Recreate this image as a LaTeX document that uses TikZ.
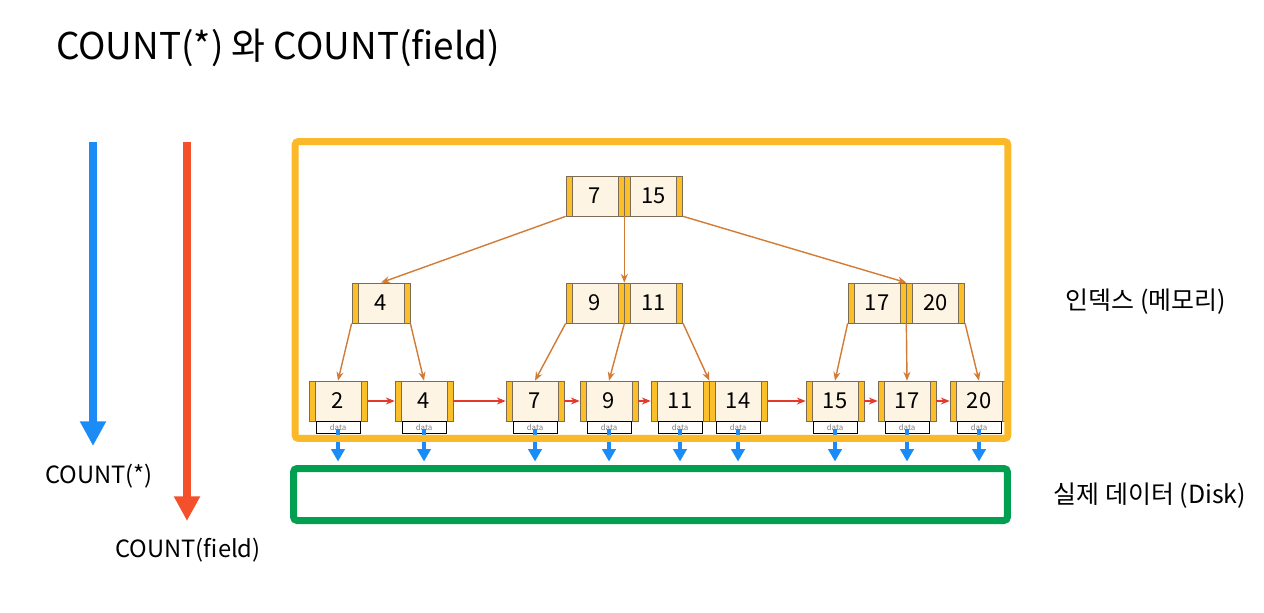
\documentclass[tikz,border=0pt]{standalone}
\usepackage{fontspec}
\setmainfont{Noto Sans CJK KR}
\usepackage{tikz}
\usetikzlibrary{arrows.meta}
\usetikzlibrary{positioning}

\definecolor{framegold}{HTML}{FBB829}
\definecolor{diskgreen}{HTML}{00A050}
\definecolor{keybar}{HTML}{FBBF2A}
\definecolor{keycream}{HTML}{FDF4E4}
\definecolor{keyedge}{HTML}{7C6C55}
\definecolor{treeline}{HTML}{D27B35}
\definecolor{leafred}{HTML}{E5392B}
\definecolor{scanblue}{HTML}{1B8CF5}
\definecolor{scanred}{HTML}{F4502C}

\tikzset{
  keycell/.style={draw=keyedge, fill=keycream, minimum width=1.16cm, minimum height=0.8cm,
    inner sep=0pt, font=\fontsize{12.5}{14}\selectfont,
    path picture={
      \fill[keybar] (path picture bounding box.south west) rectangle ([xshift=0.12cm]path picture bounding box.north west);
      \fill[keybar] (path picture bounding box.south east) rectangle ([xshift=-0.12cm]path picture bounding box.north east);
      \draw[keyedge] ([xshift=0.12cm]path picture bounding box.south west) -- ([xshift=0.12cm]path picture bounding box.north west);
      \draw[keyedge] ([xshift=-0.12cm]path picture bounding box.south east) -- ([xshift=-0.12cm]path picture bounding box.north east);
    }},
  datacell/.style={draw=black, fill=white, minimum width=0.88cm, minimum height=0.24cm,
    inner sep=0pt, text=gray, font=\fontsize{4.5}{5}\selectfont},
  treeedge/.style={treeline, line width=0.8pt, -{Stealth[length=5pt,width=4pt]}},
  leaflink/.style={leafred, line width=0.7pt, -{Stealth[length=5pt,width=4pt]}},
  diskarrow/.style={scanblue, line width=2.6pt, -{Triangle[length=7pt,width=7.5pt]}},
  label/.style={font=\fontsize{13.5}{16}\selectfont},
  sidelabel/.style={font=\fontsize{14.2}{17}\selectfont}
}

\begin{document}
\begin{tikzpicture}[x=0.02cm,y=-0.02cm]
\useasboundingbox (0,0) rectangle (1264,612);

\node[anchor=west,font=\fontsize{21}{25}\selectfont] (title) at (50,48) {COUNT(*) 와 COUNT(field)};

% scan direction arrows
\coordinate (blueTop) at (93,142);
\coordinate (blueEnd) at (93,446);
\coordinate (redTop) at (187,142);
\coordinate (redEnd) at (187,521);
\draw[scanblue,line width=4pt,-{Triangle[length=14pt,width=14pt]}] (blueTop) -- (blueEnd);
\draw[scanred,line width=4pt,-{Triangle[length=14pt,width=14pt]}] (redTop) -- (redEnd);
\node[label] (starlabel) at (99,476) {COUNT(*)};
\node[label] (fieldlabel) at (188,550) {COUNT(field)};

% root
\node[keycell] (r7) at (595,196) {7};
\node[keycell,right=0pt of r7] (r15) {15};

% branches
\node[keycell] (i4) at (381,303) {4};
\node[keycell] (i9) at (595,303) {9};
\node[keycell,right=0pt of i9] (i11) {11};
\node[keycell] (i17) at (877,303) {17};
\node[keycell,right=0pt of i17] (i20) {20};

% leaves
\foreach \k/\x in {2/338,4/424,7/535,9/609,11/680,14/738,15/835,17/907,20/979}
  \node[keycell] (l\k) at (\x,401) {\k};

% disk
\node[draw=diskgreen,line width=0.14cm,minimum width=14.28cm,minimum height=1.04cm,rounded corners=2pt] (disk) at (650.5,494.5) {};

\foreach \k in {2,4,7,9,11,14,15,17,20}{
  \node[datacell,below=0pt of l\k] (d\k) {data};
  \draw[diskarrow] ([yshift=-1pt]d\k.center) -- ([yshift=2pt]d\k.center |- disk.north);
}

% index frame
\node[draw=framegold,line width=0.14cm,minimum width=14.26cm,minimum height=5.94cm,rounded corners=2pt] (index) at (651.5,290) {};

\draw[treeedge] (r7.south west) -- (i4.north);
\draw[treeedge] (r7.south east) -- (i9.north east);
\draw[treeedge] (r15.south east) -- (i17.north east);
\draw[treeedge] (i4.south west) -- (l2.north);
\draw[treeedge] (i4.south east) -- (l4.north);
\draw[treeedge] (i9.south west) -- (l7.north);
\draw[treeedge] (i9.south east) -- (l9.north);
\draw[treeedge] (i11.south east) -- (l11.north east);
\draw[treeedge] (i17.south west) -- (l15.north);
\draw[treeedge] (i17.south east) -- (l17.north);
\draw[treeedge] (i20.south east) -- (l20.north);

\draw[leaflink] (l2) -- (l4);
\draw[leaflink] (l4) -- (l7);
\draw[leaflink] (l7) -- (l9);
\draw[leaflink] (l9) -- (l11);
\draw[leaflink] (l14) -- (l15);
\draw[leaflink] (l15) -- (l17);
\draw[leaflink] (l17) -- (l20);

\node[sidelabel] (indexlabel) at (1146,302) {인덱스 (메모리)};
\node[sidelabel] (disklabel) at (1150,496) {실제 데이터 (Disk)};
\end{tikzpicture}
\end{document}
